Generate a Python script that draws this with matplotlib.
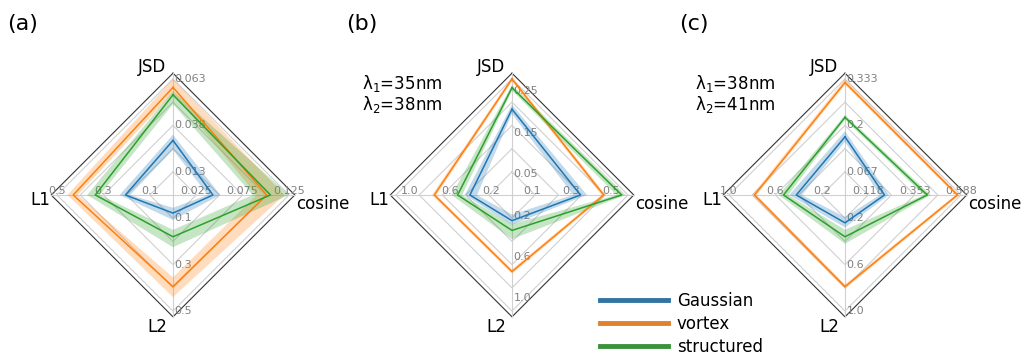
import numpy as np
import matplotlib.pyplot as plt
from matplotlib.lines import Line2D
from matplotlib.path import Path
from matplotlib.patches import PathPatch

# metric axes, drawn counter-clockwise from the top
metrics = ["JSD", "L1", "L2", "cosine"]
metric_angles = np.deg2rad([90, 180, 270, 0])

series_names = ["Gaussian", "vortex", "structured"]
series_colors = ["#1f77b4", "#ff7f0e", "#2ca02c"]
legend_colors = ["#3274a1", "#e1812c", "#3a923a"]

panel_tags = ["(a)", "(b)", "(c)"]
lambda_1 = [None, "35nm", "38nm"]
lambda_2 = [None, "38nm", "41nm"]

# upper end of each metric axis (JSD, L1, L2, cosine)
axis_max_a = [0.0625, 0.5, 0.5, 0.125]
axis_max_b = [0.28, 1.13, 1.13, 0.588]
axis_max_c = [0.333, 1.0, 1.0, 0.588]

# tick values and their printed labels on every metric axis
ticks_a = [[0.0125, 0.0375, 0.0625], [0.1, 0.3, 0.5], [0.1, 0.3, 0.5], [0.025, 0.075, 0.125]]
tick_labels_a = [["0.013", "0.038", "0.063"], ["0.1", "0.3", "0.5"], ["0.1", "0.3", "0.5"],
                 ["0.025", "0.075", "0.125"]]
ticks_b = [[0.05, 0.15, 0.25], [0.2, 0.6, 1.0], [0.2, 0.6, 1.0], [0.1, 0.3, 0.5]]
tick_labels_b = [["0.05", "0.15", "0.25"], ["0.2", "0.6", "1.0"], ["0.2", "0.6", "1.0"],
                 ["0.1", "0.3", "0.5"]]
ticks_c = [[0.0667, 0.2, 0.333], [0.2, 0.6, 1.0], [0.2, 0.6, 1.0], [0.1176, 0.353, 0.588]]
tick_labels_c = [["0.067", "0.2", "0.333"], ["0.2", "0.6", "1.0"], ["0.2", "0.6", "1.0"],
                 ["0.118", "0.353", "0.588"]]

# mean / low / high per series (Gaussian, vortex, structured), columns JSD, L1, L2, cosine
mean_a = [[0.0294, 0.205, 0.078, 0.043],
          [0.058, 0.43, 0.395, 0.101],
          [0.054, 0.335, 0.18, 0.105]]
low_a = [[0.0244, 0.185, 0.055, 0.0375],
         [0.055, 0.41, 0.355, 0.09],
         [0.049, 0.315, 0.15, 0.086]]
high_a = [[0.0325, 0.23, 0.108, 0.051],
          [0.0625, 0.455, 0.44, 0.12],
          [0.056, 0.37, 0.225, 0.125]]

mean_b = [[0.207, 0.41, 0.25, 0.347],
          [0.28, 0.757, 0.746, 0.465],
          [0.259, 0.53, 0.345, 0.556]]
low_b = [[0.196, 0.34, 0.19, 0.31],
         [0.274, 0.735, 0.723, 0.453],
         [0.252, 0.486, 0.283, 0.53]]
high_b = [[0.218, 0.46, 0.29, 0.38],
          [0.286, 0.78, 0.768, 0.476],
          [0.266, 0.588, 0.43, 0.576]]

mean_c = [[0.167, 0.42, 0.24, 0.2],
          [0.323, 0.78, 0.79, 0.57],
          [0.223, 0.53, 0.36, 0.417]]
low_c = [[0.153, 0.37, 0.19, 0.176],
         [0.316, 0.76, 0.77, 0.559],
         [0.216, 0.49, 0.30, 0.40]]
high_c = [[0.183, 0.48, 0.28, 0.223],
          [0.333, 0.80, 0.81, 0.582],
          [0.23, 0.57, 0.42, 0.435]]

ring_levels = [0.2, 0.4, 0.6, 0.8, 1.0]
frame_level = 1.05


def radar_xy(values, maxima, closed=True):
    """Переводить значення метрик у координати ромба (нормування на максимум осі)."""
    r = np.asarray(values, dtype=float) / np.asarray(maxima, dtype=float)
    x = r * np.cos(metric_angles)
    y = r * np.sin(metric_angles)
    if closed:
        x = np.append(x, x[0])
        y = np.append(y, y[0])
    return x, y


def draw_panel(ax, maxima, ticks, tick_labels, mean, low, high):
    ones = np.ones(len(metrics))

    # сітка: ромби та промені
    for level in ring_levels:
        x, y = radar_xy(level * ones, ones)
        ax.plot(x, y, color="#d0d0d0", lw=0.8, zorder=1)
    x, y = radar_xy(frame_level * ones, ones)
    ax.plot(x, y, color="#333333", lw=0.8, zorder=1)
    for ang in metric_angles:
        ax.plot([0, frame_level * np.cos(ang)], [0, frame_level * np.sin(ang)],
                color="#d0d0d0", lw=0.8, zorder=1)

    # підписи поділок уздовж кожної осі
    for k, ang in enumerate(metric_angles):
        for value, text in zip(ticks[k], tick_labels[k]):
            r = value / maxima[k]
            if k in (0, 2):
                ax.text(0.015, r * np.sin(ang), text, ha="left", va="center",
                        fontsize=8, color="#808080", zorder=2)
            else:
                ax.text(r * np.cos(ang), 0.035, text, ha="center", va="center",
                        fontsize=8, color="#808080", zorder=2)

    # смуги розкиду та середні лінії
    for s, color in enumerate(series_colors):
        hx, hy = radar_xy(high[s], maxima)
        lx, ly = radar_xy(low[s], maxima)
        verts = np.concatenate([np.column_stack([hx, hy]), np.column_stack([lx, ly])[::-1]])
        n = len(hx)
        codes = [Path.MOVETO] + [Path.LINETO] * (n - 2) + [Path.CLOSEPOLY]
        codes = codes + codes
        ax.add_patch(PathPatch(Path(verts, codes), facecolor=color, edgecolor="none",
                               alpha=0.27, zorder=3))
        mx, my = radar_xy(mean[s], maxima)
        ax.plot(mx, my, color=color, lw=1.1, zorder=4)

    # назви метрик біля вершин
    ax.text(-0.06, 1.10, "JSD", ha="right", va="center", fontsize=12)
    ax.text(-1.06, -0.045, "L1", ha="right", va="center", fontsize=12)
    ax.text(-0.05, -1.135, "L2", ha="right", va="center", fontsize=12)
    ax.text(1.06, -0.08, "cosine", ha="left", va="center", fontsize=12)

    ax.set_xlim(-1.4, 1.4)
    ax.set_ylim(-1.4, 1.4)
    ax.axis("off")


W, H = 1025, 358
unit = 116.0
half = 1.4 * unit
centers_x = [173, 512, 845]
center_y = 195

fig = plt.figure(figsize=(W / 100, H / 100), dpi=100)

panels = [
    (axis_max_a, ticks_a, tick_labels_a, mean_a, low_a, high_a),
    (axis_max_b, ticks_b, tick_labels_b, mean_b, low_b, high_b),
    (axis_max_c, ticks_c, tick_labels_c, mean_c, low_c, high_c),
]

for i, (maxima, ticks, labels, mean, low, high) in enumerate(panels):
    cx = centers_x[i]
    ax = fig.add_axes([(cx - half) / W, (H - center_y - half) / H, 2 * half / W, 2 * half / H])
    draw_panel(ax, maxima, ticks, labels, mean, low, high)

    fig.text((cx - 166) / W, 1 - 24 / H, panel_tags[i], ha="left", va="center", fontsize=16)
    if lambda_1[i] is not None:
        fig.text((cx - 150) / W, 1 - 84 / H, r"$\mathregular{\lambda_1}$=" + lambda_1[i],
                 ha="left", va="center", fontsize=12)
        fig.text((cx - 150) / W, 1 - 105 / H, r"$\mathregular{\lambda_2}$=" + lambda_2[i],
                 ha="left", va="center", fontsize=12)

handles = [Line2D([], [], color=c, lw=3.5) for c in legend_colors]
fig.legend(handles, series_names, loc="upper left", bbox_to_anchor=(600 / W, 1 - 292 / H),
           frameon=False, fontsize=12, handlelength=4.1, handletextpad=0.5,
           labelspacing=0.3, borderpad=0, borderaxespad=0)

fig.savefig("out.png", dpi=100)
